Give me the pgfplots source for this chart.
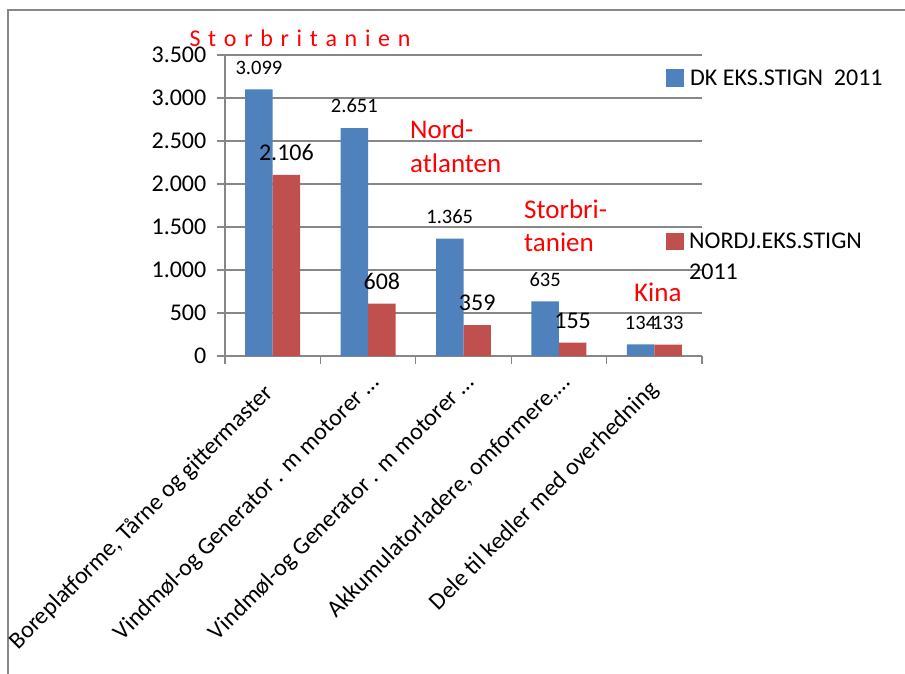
\documentclass[border=0pt]{standalone}
\usepackage{fontspec}
\setmainfont{Carlito}
\usepackage{pgfplots}
\pgfplotsset{compat=1.18}
\definecolor{dkblue}{HTML}{4F81BD}
\definecolor{njred}{HTML}{C0504D}
\definecolor{gridgray}{HTML}{878787}
\newcommand\fL{\fontsize{24}{28}\selectfont}
\newcommand\fS{\fontsize{20.5}{24}\selectfont}
\newcommand\fR{\fontsize{27}{32}\selectfont}
\begin{document}
\begin{tikzpicture}[x=1pt,y=1pt]
\useasboundingbox (0,0) rectangle (905,673);
\draw[gridgray, line width=1.5pt] (8,-2) -- (8,663) -- (907,663);
\begin{axis}[
    at={(225pt,317pt)}, anchor=south west,
    scale only axis, width=477pt, height=301pt,
    xmin=-0.5, xmax=4.5, ymin=0, ymax=3500,
    axis x line*=bottom, axis y line*=left,
    axis line style={gridgray, line width=1.3pt, -},
    ybar=0pt, bar width=0.288,
    ytick={0,500,...,3500},
    ymajorgrids, grid style={gridgray, line width=1.3pt},
    xtick={-0.5,0.5,...,4.5},
    x tick label as interval,
    xticklabels={{Boreplatforme, Tårne og gittermaster\kern15pt},
                 {Vindmøl-og Generator . m motorer …},
                 {Vindmøl-og Generator . m motorer …},
                 {Akkumulatorladere, omformere,…},
                 {Dele til kedler med overhedning\kern10pt}},
    tick align=outside, major tick length=7.5pt,
    tick style={gridgray, line width=1.3pt},
    scaled y ticks=false,
    /pgf/number format/1000 sep={.},
    /pgf/number format/assume math mode=true,
    yticklabel style={font=\fL, inner sep=0pt, xshift=-11pt},
    xticklabel style={font=\fL, inner sep=0pt, xshift=12pt, yshift=-20pt,
                      rotate=45, anchor=base east},
    clip=false,
    point meta=explicit symbolic,
    nodes near coords,
    every node near coord/.append style={anchor=center, yshift=22pt, inner sep=0pt},
]
\addplot[fill=dkblue, draw=none] coordinates {
    (0,3099) [\fS 3.099] (1,2651) [\fS 2.651] (2,1365) [\fS 1.365]
    (3,635) [\fS 635] (4,134) [\fS 134]
};
\addplot[fill=njred, draw=none] coordinates {
    (0,2106) [\fL 2.106] (1,608) [\fL 608] (2,359) [\fL 359]
    (3,155) [\fL 155] (4,133) [\fS 133]
};
\end{axis}
% legend
\fill[dkblue] (666,586) rectangle (684,604);
\node[anchor=base west, inner sep=0pt, font=\fL] at (690,587) {DK EKS.STIGN\ \ 2011};
\fill[njred] (666,423) rectangle (684,440);
\node[anchor=base west, inner sep=0pt, font=\fL] at (689,424) {NORDJ.EKS.STIGN};
\node[anchor=base west, inner sep=0pt, font=\fL] at (689,393) {2011};
% red annotations
\node[anchor=base, inner sep=0pt, red, font=\fL] at (300,626) {\spaceskip=0.32em S t o r b r i t a n i e n};
\node[anchor=base west, inner sep=0pt, red, font=\fR] at (410,534) {Nord-};
\node[anchor=base west, inner sep=0pt, red, font=\fR] at (410,500) {atlanten};
\node[anchor=base west, inner sep=0pt, red, font=\fR] at (524,454) {Storbri-};
\node[anchor=base west, inner sep=0pt, red, font=\fR] at (524,421) {tanien};
\node[anchor=base west, inner sep=0pt, red, font=\fR] at (634,371) {Kina};
\end{tikzpicture}
\end{document}
